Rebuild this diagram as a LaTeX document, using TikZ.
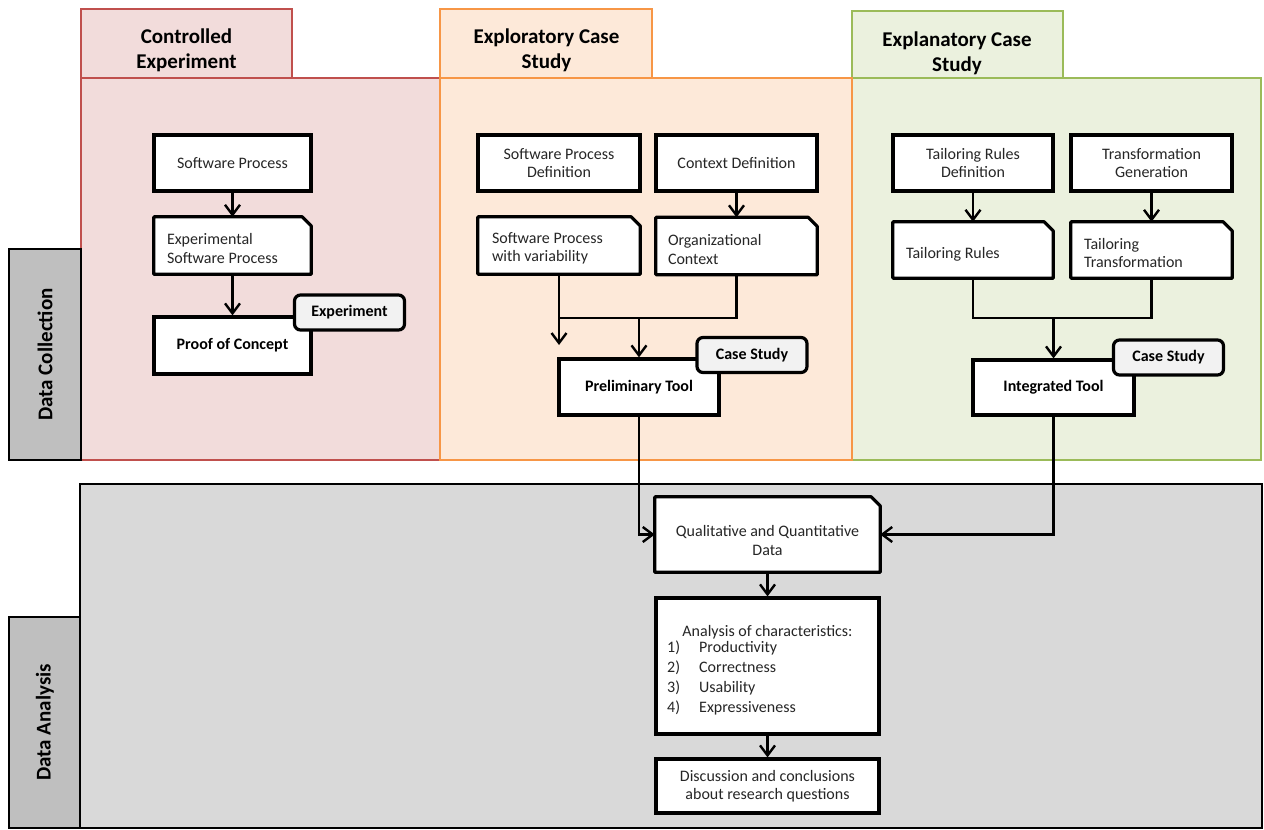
\documentclass[tikz,border=0pt]{standalone}
\usepackage{fontspec}
\setmainfont{Carlito}
\usetikzlibrary{arrows.meta}

\definecolor{ceBorder}{HTML}{C0504D}
\definecolor{ceFill}{HTML}{F2DCDB}
\definecolor{ecBorder}{HTML}{F79646}
\definecolor{ecFill}{HTML}{FDE9D9}
\definecolor{xcBorder}{HTML}{9BBB59}
\definecolor{xcFill}{HTML}{EBF1DE}
\definecolor{tabGray}{HTML}{BFBFBF}
\definecolor{areaGray}{HTML}{D9D9D9}
\definecolor{tagFill}{HTML}{F2F2F2}
\definecolor{txtGray}{HTML}{262626}

\pgfdeclarelayer{panels}
\pgfdeclarelayer{docs}
\pgfsetlayers{panels,docs,main}

\tikzset{
  panel/.style={line width=2.8pt},
  sidetab/.style={draw=black, fill=tabGray, line width=2.8pt},
  titletext/.style={font=\fontsize{21}{24.6}\selectfont\bfseries, align=center},
  sidetext/.style={font=\fontsize{21}{24}\selectfont\bfseries, rotate=90},
  boxtext/.style={font=\fontsize{16}{18.5}\selectfont, text=txtGray},
  procbox/.style={draw=black, fill=white, line width=3.2pt, boxtext, align=center, inner sep=2pt},
  boldbox/.style={procbox, font=\fontsize{16}{18.5}\selectfont\bfseries, text=black},
  docshape/.style={inner sep=0pt},
  doctext/.style={boxtext, align=left, anchor=west, inner sep=0pt},
  tagbox/.style={draw=black, fill=tagFill, line width=3.2pt, rounded corners=6pt,
    font=\fontsize{16}{18}\selectfont\bfseries, minimum width=110, minimum height=35, inner sep=1pt},
  listtext/.style={boxtext, anchor=base west, inner sep=0pt},
  conn/.style={line width=2.4pt},
  arr/.style={conn, -{Straight Barb[length=10pt,width=15pt]}},
}

% folded-corner outline behind a document node
\newcommand\docoutline[1]{%
  \begin{pgfonlayer}{docs}
    \draw[line width=3.2pt, fill=white, line join=round]
      (#1.north west) -- ([xshift=-9pt]#1.north east) -- ([yshift=-9pt]#1.north east)
      -- (#1.south east) -- (#1.south west) -- cycle;
  \end{pgfonlayer}}

\begin{document}
\begin{tikzpicture}[x=1pt, y=-1pt]
\useasboundingbox (0,0) rectangle (1264,830);

% ---------- coloured study panels ----------
\begin{pgfonlayer}{panels}
  \draw[panel, draw=ceBorder, fill=ceFill] (81,9) rectangle (292,78);
  \draw[panel, draw=ceBorder, fill=ceFill] (81,78) rectangle (441,460);
  \draw[panel, draw=xcBorder, fill=xcFill] (852,11) rectangle (1063,78);
  \draw[panel, draw=xcBorder, fill=xcFill] (852,78) rectangle (1261,460);
  \draw[panel, draw=ecBorder, fill=ecFill] (440,9) rectangle (652,78);
  \draw[panel, draw=ecBorder, fill=ecFill] (440,78) rectangle (852,460);
  \draw[sidetab] (9,249) rectangle (81,460);
  % analysis area
  \draw[line width=2.8pt, draw=black, fill=areaGray] (80,484) rectangle (1262,828);
  \draw[sidetab] (9,617) rectangle (80,828);
\end{pgfonlayer}

\node[titletext] (tce) at (186.5,50) {Controlled\\Experiment};
\node[titletext] (tec) at (546.5,50) {Exploratory Case\\Study};
\node[titletext] (txc) at (957,53) {Explanatory Case\\Study};
\node[sidetext] (ldc) at (45,354.5) {Data Collection};
\node[sidetext] (lda) at (45,722.5) {Data Analysis};

% ---------- controlled experiment ----------
\node[procbox, minimum width=157, minimum height=56] (sp) at (232.5,163) {Software Process};
\node[docshape, minimum width=157, minimum height=57] (esp) at (232.5,245.5) {};
\docoutline{esp}
\node[doctext] (espt) at ([xshift=13pt, yshift=-3pt]esp.west) {Experimental\\Software Process};
\node[boldbox, minimum width=157, minimum height=57] (poc) at (232.5,345.5) {Proof of Concept};
\node[tagbox] (tagexp) at (349.5,312.5) {Experiment};
\draw[arr] (sp) -- (esp);
\draw[arr] (esp) -- (poc);

% ---------- exploratory case study ----------
\node[procbox, minimum width=162, minimum height=56] (spd) at (559,163) {Software Process\\Definition};
\node[procbox, minimum width=161, minimum height=56] (cd) at (736.5,163) {Context Definition};
\node[docshape, minimum width=162, minimum height=57] (spv) at (559,245.5) {};
\docoutline{spv}
\node[doctext] (spvt) at ([xshift=14pt, yshift=-3pt]spv.west) {Software Process\\with variability};
\node[docshape, minimum width=161, minimum height=57] (oc) at (736.5,246) {};
\docoutline{oc}
\node[doctext] (oct) at ([xshift=12pt, yshift=-3.5pt]oc.west) {Organizational\\Context};
\node[boldbox, minimum width=160, minimum height=56] (pt) at (639,387) {Preliminary Tool};
\node[tagbox] (tagpt) at (752,355) {Case Study};
\coordinate (jec) at (639,318);
\coordinate (spvend) at (559,345);
\draw[arr] (cd) -- (oc);
\draw[conn] (spv.south) |- (oc.south |- jec) -- (oc.south);
\draw[arr] (spv.south |- jec) -- (spvend);
\draw[arr] (jec) -- (pt.north);

% ---------- explanatory case study ----------
\node[procbox, minimum width=160, minimum height=56] (trd) at (973,163) {Tailoring Rules\\Definition};
\node[procbox, minimum width=161, minimum height=56] (tg) at (1151.5,163) {Transformation\\Generation};
\node[docshape, minimum width=160, minimum height=56] (tr) at (973,250) {};
\docoutline{tr}
\node[doctext] (trt) at ([xshift=13pt, yshift=-4pt]tr.west) {Tailoring Rules};
\node[docshape, minimum width=161, minimum height=56] (tt) at (1151.5,250) {};
\docoutline{tt}
\node[doctext] (ttt) at ([xshift=13pt, yshift=-3pt]tt.west) {Tailoring\\Transformation};
\node[boldbox, minimum width=161, minimum height=55] (it) at (1053.5,387.5) {Integrated Tool};
\node[tagbox] (tagit) at (1168.5,357.5) {Case Study};
\coordinate (jxc) at (1053.5,318);
\draw[arr] (trd) -- (tr);
\draw[arr] (tg) -- (tt);
\draw[conn] (tr.south) |- (tt.south |- jxc) -- (tt.south);
\draw[arr] (jxc) -- (it.north);

% ---------- data analysis ----------
\node[docshape, minimum width=225, minimum height=75] (qqd) at (767.5,534.5) {};
\docoutline{qqd}
\node[boxtext, align=center, inner sep=0pt] (qqdt) at ([yshift=-6pt]qqd.center)
      {Qualitative and Quantitative\\Data};
\node[procbox, minimum width=223, minimum height=136] (an) at (767.5,666) {};
\node[boxtext, anchor=base, inner sep=0pt] (anh) at (767.5,636.5) {Analysis of characteristics:};
\node[listtext] (n1) at (667,652.3) {1)};
\node[listtext] (i1) at (699,652.3) {Productivity};
\node[listtext] (n2) at (667,672.2) {2)};
\node[listtext] (i2) at (699,672.2) {Correctness};
\node[listtext] (n3) at (667,692.1) {3)};
\node[listtext] (i3) at (699,692.1) {Usability};
\node[listtext] (n4) at (667,712) {4)};
\node[listtext] (i4) at (699,712) {Expressiveness};
\node[procbox, minimum width=223, minimum height=54] (dc) at (767.5,786)
      {Discussion and conclusions\\about research questions};

\draw[arr] (pt.south) |- (qqd.west);
\draw[arr] (it.south) |- (qqd.east);
\draw[arr] (qqd) -- (an);
\draw[arr] (an) -- (dc);
\end{tikzpicture}
\end{document}
